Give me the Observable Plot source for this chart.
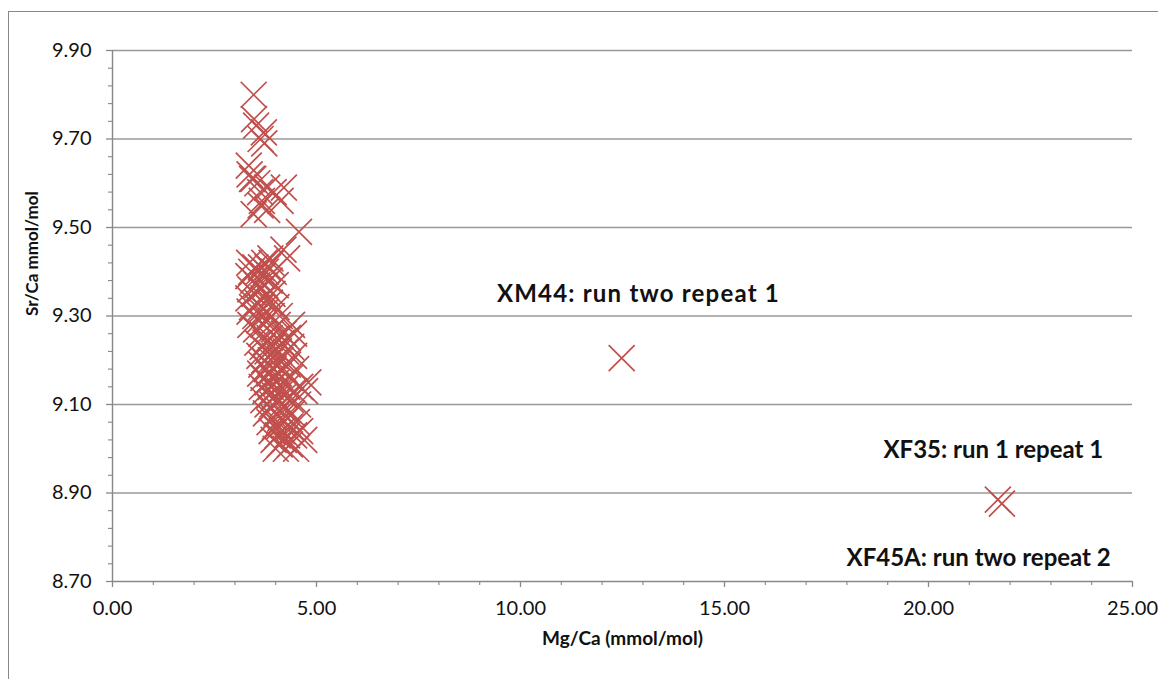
<!DOCTYPE html>
<html>
<head>
<meta charset="utf-8">
<script src="https://cdn.jsdelivr.net/npm/d3@7"></script>
<script src="https://cdn.jsdelivr.net/npm/@observablehq/plot@0.6"></script>
<style>
  html, body { margin: 0; padding: 0; background: #fff; }
  #wrap { position: relative; width: 1158px; height: 679px; overflow: hidden; }
  #frame { position: absolute; left: 8px; top: 11px; width: 1300px; height: 900px; border: 1.4px solid #888; pointer-events: none; }
  svg { display: block; }
</style>
</head>
<body>
<div id="wrap"><div id="frame"></div></div>
<script>
// Cluster of samples: Mg/Ca (mmol/mol) and Sr/Ca (mmol/mol)
const mgCa = [
  3.46, 3.47, 3.52, 3.71, 3.63, 3.72,
  3.34, 3.36, 3.42, 3.45, 3.55, 3.79, 4.20, 3.62, 3.95, 3.66, 4.12, 3.63, 3.79, 3.46,
  4.57, 4.19, 3.87, 4.28,
  3.35, 3.72, 3.90, 3.50, 3.64, 3.80, 3.40, 3.58, 3.76, 3.95, 3.33, 3.68, 3.45, 3.85,
  3.55, 3.74, 4.00, 3.38, 3.62, 3.48, 3.80, 3.92, 3.33, 3.70, 3.55, 3.86,
  3.42, 3.64, 4.02, 3.36, 3.76, 3.50, 3.90, 4.10, 3.60, 3.80,
  3.38, 3.70, 4.05, 4.40, 3.52, 3.95, 3.65, 4.20, 4.45, 3.85, 4.02, 4.30,
  3.55, 3.75, 4.15, 3.68, 3.92, 4.38, 3.80, 4.08, 4.25, 3.60, 3.98, 4.45,
  3.72, 3.88, 4.12, 3.65, 4.00, 4.30, 3.78, 3.95, 4.20, 4.50, 3.62, 3.85, 4.08,
  3.70, 3.92, 4.35, 3.80, 4.02, 4.18, 4.80, 3.66, 3.88, 4.28, 4.60,
  3.75, 4.10, 4.45, 4.72, 3.84, 3.98, 4.22, 3.70, 4.05, 4.38,
  3.80, 3.92, 4.15, 4.55, 3.88, 4.25, 3.76, 4.02, 4.40, 3.95, 4.12, 4.30,
  3.85, 4.20, 4.52, 3.98, 4.08, 4.35, 3.90, 4.15, 4.60, 4.05, 4.28, 4.45,
  3.95, 4.20, 4.70, 4.10, 4.35, 4.00, 4.25, 4.50,
  12.48, 21.70, 21.80
];
const srCa = [
  9.80, 9.745, 9.73, 9.715, 9.70, 9.69,
  9.64, 9.62, 9.61, 9.61, 9.60, 9.59, 9.59, 9.58, 9.58, 9.56, 9.56, 9.55, 9.54, 9.53,
  9.49, 9.45, 9.43, 9.43,
  9.42, 9.42, 9.42, 9.41, 9.41, 9.41, 9.40, 9.40, 9.40, 9.40, 9.39, 9.39, 9.38, 9.38,
  9.37, 9.37, 9.37, 9.36, 9.36, 9.35, 9.35, 9.35, 9.34, 9.34, 9.33, 9.33,
  9.32, 9.32, 9.32, 9.31, 9.31, 9.30, 9.30, 9.30, 9.29, 9.29,
  9.28, 9.28, 9.28, 9.28, 9.27, 9.27, 9.26, 9.26, 9.26, 9.25, 9.25, 9.25,
  9.24, 9.24, 9.24, 9.23, 9.23, 9.23, 9.22, 9.22, 9.22, 9.21, 9.21, 9.21,
  9.20, 9.20, 9.20, 9.19, 9.19, 9.19, 9.18, 9.18, 9.18, 9.18, 9.17, 9.17, 9.17,
  9.16, 9.16, 9.16, 9.15, 9.15, 9.15, 9.15, 9.14, 9.14, 9.14, 9.14,
  9.13, 9.13, 9.13, 9.13, 9.12, 9.12, 9.12, 9.11, 9.11, 9.11,
  9.10, 9.10, 9.10, 9.10, 9.09, 9.09, 9.08, 9.08, 9.08, 9.07, 9.07, 9.07,
  9.06, 9.06, 9.06, 9.05, 9.05, 9.05, 9.04, 9.04, 9.04, 9.03, 9.03, 9.03,
  9.02, 9.02, 9.02, 9.01, 9.01, 9.00, 9.00, 9.00,
  9.205, 8.885, 8.876
];

// Annotations
const noteText = ["XM44: run two repeat 1", "XF35: run 1 repeat 1", "XF45A: run two repeat 2"];
const noteX = [12.89, 21.59, 21.23];
const noteY = [9.35, 8.997, 8.752];

// Axes
const xMajor = [0, 5, 10, 15, 20, 25];
const xMajorLabels = ["0.00", "5.00", "10.00", "15.00", "20.00", "25.00"];
const xMinor = [1,2,3,4,6,7,8,9,11,12,13,14,16,17,18,19,21,22,23,24];
const yMajor = [8.7, 8.9, 9.1, 9.3, 9.5, 9.7, 9.9];
const yMajorLabels = ["8.70", "8.90", "9.10", "9.30", "9.50", "9.70", "9.90"];
const yMinor = [8.74,8.78,8.82,8.86, 8.94,8.98,9.02,9.06, 9.14,9.18,9.22,9.26,
                9.34,9.38,9.42,9.46, 9.54,9.58,9.62,9.66, 9.74,9.78,9.82,9.86];
const yGrid = [8.9, 9.1, 9.3, 9.5, 9.7, 9.9];
const xTitle = "Mg/Ca (mmol/mol)";
const yTitle = "Sr/Ca mmol/mol";

const points = mgCa.map((x, i) => ({x, y: srCa[i]}));
const notes = noteText.map((t, i) => ({t, x: noteX[i], y: noteY[i]}));

const crossSymbol = {
  draw(context, size) {
    const r = Math.sqrt(size / Math.PI);
    context.moveTo(-r, -r); context.lineTo(r, r);
    context.moveTo(r, -r); context.lineTo(-r, r);
  }
};

const FONT = "Lato, 'Open Sans', sans-serif";
const axisGray = "#888";
const blank = () => "";

const chart = Plot.plot({
  width: 1158,
  height: 679,
  marginLeft: 112,
  marginRight: 26,
  marginTop: 50,
  marginBottom: 98,
  style: {fontFamily: FONT, background: "transparent"},
  x: {domain: [0, 25]},
  y: {domain: [8.7, 9.9]},
  marks: [
    Plot.ruleY(yGrid, {stroke: "#999", strokeWidth: 1.5}),
    Plot.ruleX([0], {stroke: axisGray, strokeWidth: 1.4}),
    Plot.ruleY([8.7], {stroke: axisGray, strokeWidth: 1.4}),
    Plot.axisY(yMajor, {tickSize: 6, stroke: axisGray, strokeWidth: 1.3, tickFormat: blank, label: null}),
    Plot.axisY(yMinor, {tickSize: 4, stroke: axisGray, strokeWidth: 1.1, tickFormat: blank, label: null}),
    Plot.axisX(xMajor, {tickSize: 6, stroke: axisGray, strokeWidth: 1.3, tickFormat: blank, label: null}),
    Plot.axisX(xMinor, {tickSize: 4, stroke: axisGray, strokeWidth: 1.1, tickFormat: blank, label: null}),
    Plot.axisY(yMajor, {tickSize: 0, tickPadding: 21, fontSize: 20, color: "#111", label: null,
      tickFormat: (d) => yMajorLabels[yMajor.indexOf(d)]}),
    Plot.axisX(xMajor, {tickSize: 0, tickPadding: 19, fontSize: 20, color: "#111", label: null,
      tickFormat: (d) => xMajorLabels[xMajor.indexOf(d)]}),
    Plot.dot(points, {x: "x", y: "y", r: 13, symbol: crossSymbol, fill: "none",
      stroke: "#c0504d", strokeWidth: 1.7}),
    Plot.text(notes, {x: "x", y: "y", text: "t", fontSize: 24, fontWeight: "bold", fill: "#111"}),
    Plot.text([xTitle], {frameAnchor: "bottom", dy: 63, fontSize: 19, fontWeight: "bold", fill: "#111"}),
    Plot.text([yTitle], {frameAnchor: "left", dx: -80, rotate: -90, fontSize: 17, fontWeight: "bold", fill: "#111"})
  ]
});
// The XM44 note is set a little looser in the reference
d3.select(chart).selectAll("text").filter(function () { return this.textContent === noteText[0]; })
  .style("letter-spacing", "1.2px");
document.getElementById("wrap").prepend(chart);
</script>
</body>
</html>
